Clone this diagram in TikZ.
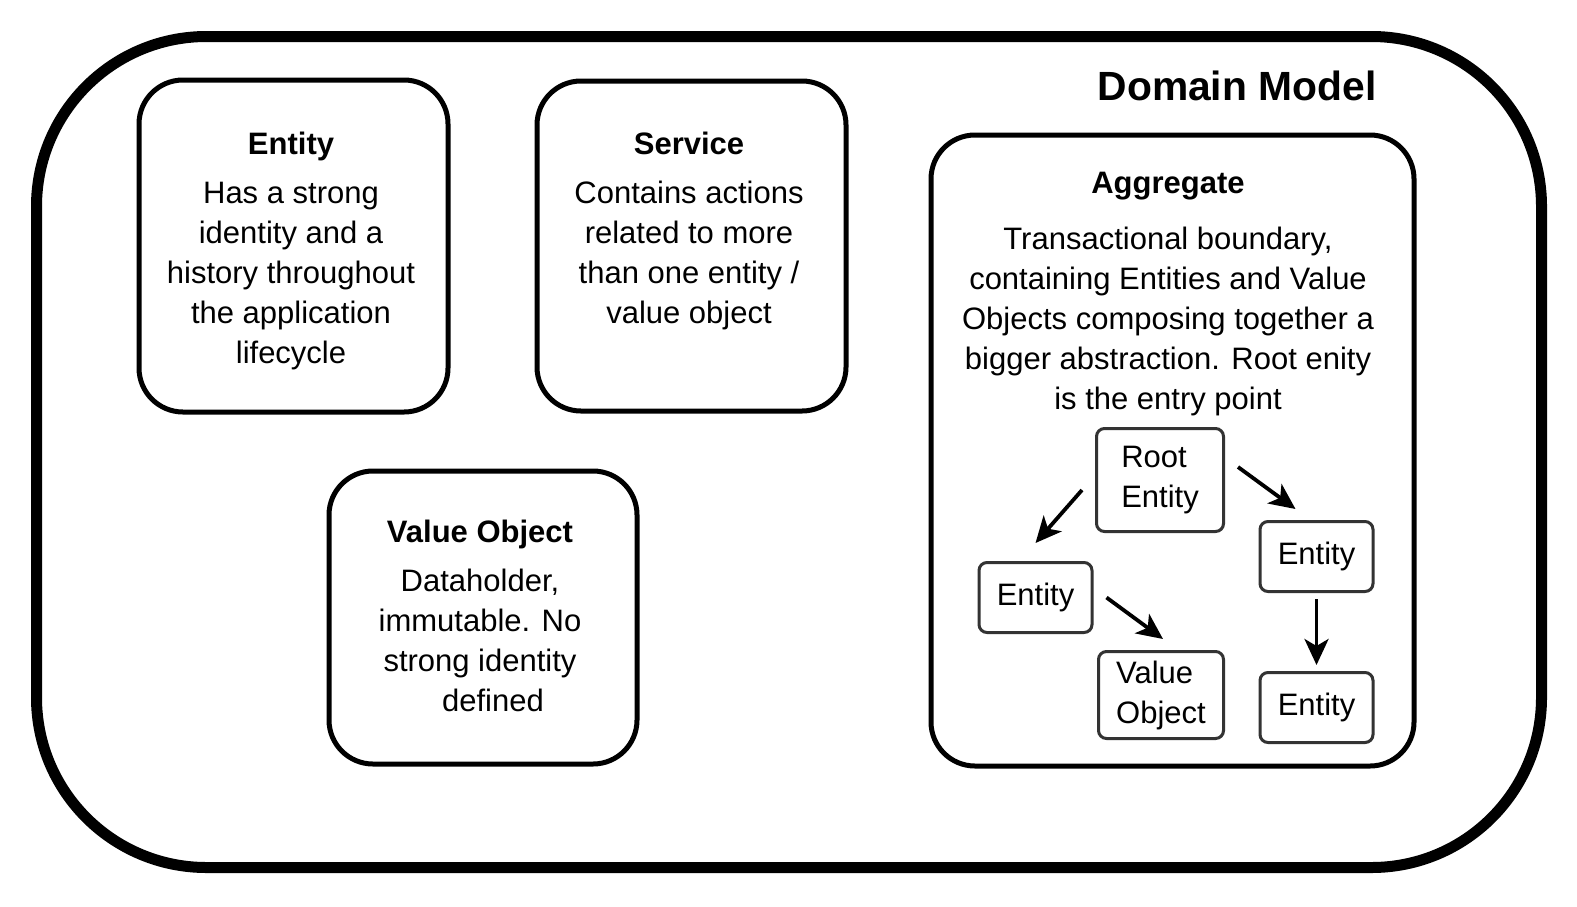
\documentclass[tikz,border=0pt]{standalone}
\usepackage{fontspec}
\setmainfont{Liberation Sans}
\usetikzlibrary{arrows.meta}

\tikzset{
  bigbox/.style={draw, line width=2.5pt, rounded corners=22pt, inner sep=0pt},
  smallbox/.style={draw=black!80, line width=1.5pt, rounded corners=4pt, inner sep=0pt,
    align=left, font=\fontsize{15.5pt}{20pt}\selectfont},
  boxtext/.style={align=center, inner sep=0pt, anchor=base, font=\fontsize{15.5pt}{20pt}\selectfont},
  link/.style={-{Stealth[length=13pt,width=12pt,inset=3.5pt]}, line width=1.9pt},
}

\begin{document}
\begin{tikzpicture}[x=0.5pt, y=-0.5pt]
	\useasboundingbox (0,0) rectangle (1577,906);
	% outer frame
	\node[draw, line width=5.5pt, rounded corners=85pt, inner sep=0pt,
	  minimum width=752.5pt, minimum height=415.5pt] (domain) at (789,452) {};
	\node[anchor=base, inner sep=0pt, font=\fontsize{20.4pt}{24pt}\selectfont\bfseries] (domaintitle) at (1237,100) {Domain Model};
	% the three building blocks (text anchored at its last line)
	\node[bigbox, minimum width=154.5pt, minimum height=166pt] (entity) at (293.5,246) {};
	\node[bigbox, minimum width=154.5pt, minimum height=165pt] (service) at (691.5,246) {};
	\node[bigbox, minimum width=154pt, minimum height=146.5pt] (valueobj) at (483,617.5) {};
	\node[boxtext] (entitytext) at (291,363) {\textbf{Entity}\\[4.5pt]Has a strong\\identity and a\\history throughout\\the application\\lifecycle};
	\node[boxtext] (servicetext) at (689,323) {\textbf{Service}\\[4.5pt]Contains actions\\related to more\\than one entity /\\value object};
	\node[boxtext] (valueobjtext) at (480,711) {\textbf{Value Object}\\[4.5pt]Dataholder,\\immutable. No\\strong identity\\\ \ \ defined};
	% aggregate
	\node[bigbox, minimum width=241.5pt, minimum height=315.5pt] (aggregate) at (1172.5,450.5) {};
	\node[boxtext] (aggregatetext) at (1168,409) {\textbf{Aggregate}\\[8pt]Transactional boundary,\\containing Entities and Value\\Objects composing together a\\bigger abstraction. Root enity\\is the entry point};
	\node[smallbox, minimum width=63.5pt, minimum height=51.5pt] (root) at (1160,480) {Root\\Entity};
	\node[smallbox, minimum width=62.5pt, minimum height=43.5pt] (vo) at (1161,695) {Value\\Object};
	\foreach \nm/\x/\y in {entl/1035.5/597.5, entr/1316.5/556.5, entb/1316.5/707.5}
	  \node[smallbox, minimum width=56.5pt, minimum height=35pt] (\nm) at (\x,\y) {Entity};
	\draw[link] ([xshift=-6.5pt,yshift=-5pt]root.west) -- ([yshift=9pt]entl.north);
	\draw[link] ([xshift=6.5pt,yshift=6.5pt]root.east) -- ([xshift=-10.5pt,yshift=5.5pt]entr.north);
	\draw[link] ([xshift=6.5pt]entl.east) -- ([xshift=1pt,yshift=5.5pt]vo.north);
	\draw[link] ([yshift=-3pt]entr.south) -- ([yshift=3pt]entb.north);
\end{tikzpicture}
\end{document}
